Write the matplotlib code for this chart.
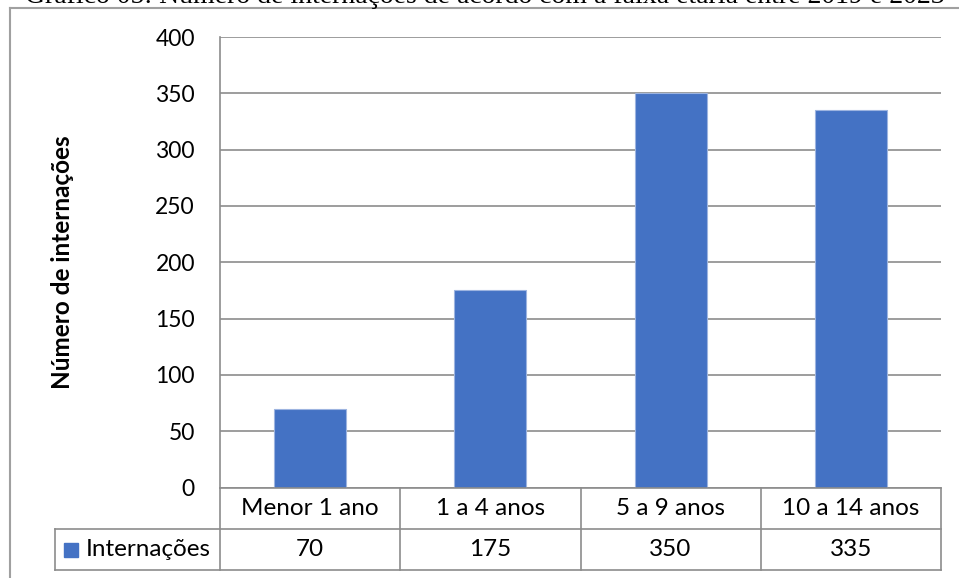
import matplotlib
matplotlib.use("Agg")
import matplotlib.pyplot as plt
from matplotlib.patches import Rectangle
from matplotlib.lines import Line2D

# internações por faixa etária, 2019-2023
faixas = ["Menor 1 ano", "1 a 4 anos", "5 a 9 anos", "10 a 14 anos"]
internacoes = [70, 175, 350, 335]
serie = "Internações"
titulo = "Gráfico 05: Número de internações de acordo com a faixa etária entre 2019 e 2023"

azul = "#4472C4"
cinza = "#8c8c8c"
W, H = 959, 578

plt.rcParams["font.family"] = ["Lato", "DejaVu Sans"]

fig = plt.figure(figsize=(W / 100, H / 100), dpi=100)

def fx(px):
    return px / W

def fy(py):
    return 1 - py / H

# moldura do gráfico (cortada à direita e embaixo)
fig.add_artist(Line2D([fx(10), fx(10)], [fy(8), 0], color="#a0a0a0", lw=1.5))
fig.add_artist(Line2D([fx(10), 1], [fy(8), fy(8)], color="#a0a0a0", lw=1.5))

fig.text(fx(485), fy(3), titulo, ha="center", va="baseline",
         family="Liberation Serif", fontsize=20)

left, right, top, bottom = 220, 941, 37, 487.5
ax = fig.add_axes([fx(left), fy(bottom), fx(right - left), (bottom - top) / H])

x = range(len(faixas))
ax.bar(x, internacoes, width=0.4, color=azul, edgecolor="#9db4e0", linewidth=0.8, zorder=3)
ax.set_xlim(-0.5, len(faixas) - 0.5)
ax.set_ylim(0, 400)
ax.set_yticks(range(0, 401, 50))
ax.yaxis.grid(True, color=cinza, lw=1.2, zorder=0)
ax.tick_params(axis="y", length=0, pad=18, labelsize=16.5)
ax.set_xticks([])
for s in ["top", "right", "bottom"]:
    ax.spines[s].set_visible(False)
ax.spines["left"].set_color(cinza)
ax.spines["left"].set_linewidth(1.2)

fig.text(fx(62), fy((top + bottom) / 2), "Número de internações", rotation=90,
         ha="center", va="center", fontsize=17.5, fontweight="bold")

# tabela de dados abaixo do eixo
row1, row2, row3 = 487.5, 529, 570
colw = (right - left) / len(faixas)
lk = dict(color=cinza, lw=1.2)
fig.add_artist(Line2D([fx(left), fx(left)], [fy(row1), fy(row3)], **lk))
fig.add_artist(Line2D([fx(left), fx(right)], [fy(row1), fy(row1)], **lk))
fig.add_artist(Line2D([fx(55), fx(right)], [fy(row2), fy(row2)], **lk))
fig.add_artist(Line2D([fx(55), fx(right)], [fy(row3), fy(row3)], **lk))
fig.add_artist(Line2D([fx(55), fx(55)], [fy(row2), fy(row3)], **lk))
for i in range(len(faixas)):
    xr = left + colw * (i + 1)
    fig.add_artist(Line2D([fx(xr), fx(xr)], [fy(row1), fy(row3)], **lk))
    xc = left + colw * (i + 0.5)
    fig.text(fx(xc), fy((row1 + row2) / 2), faixas[i], ha="center", va="center", fontsize=17.5)
    fig.text(fx(xc), fy((row2 + row3) / 2), str(internacoes[i]), ha="center", va="center", fontsize=17.5)

fig.add_artist(Rectangle((fx(64), fy(557)), fx(14), 14 / H, color=azul))
fig.text(fx(86), fy((row2 + row3) / 2), serie, ha="left", va="center", fontsize=17.5)

fig.savefig("out.png", dpi=100)
